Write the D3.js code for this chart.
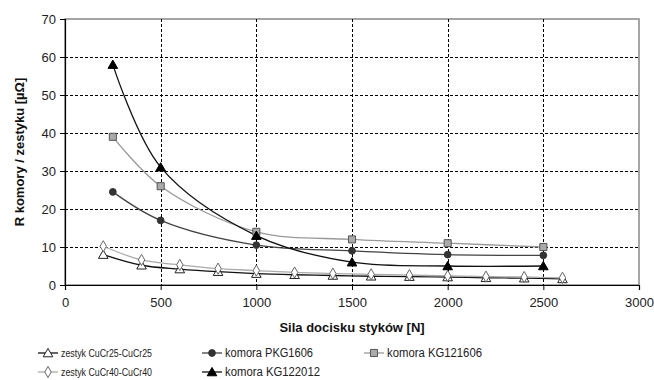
<!DOCTYPE html>
<html><head><meta charset="utf-8">
<script src="https://cdn.jsdelivr.net/npm/d3@7"></script>
<style>body{margin:0;background:#fff}svg{display:block;font-family:"Liberation Sans",Arial,sans-serif}</style>
</head><body><svg id="c" width="654" height="380"></svg>
<script>
const xZestyk = [200,400,600,800,1000,1200,1400,1600,1800,2000,2200,2400,2600];
const cucr25 = [8,5.2,4.2,3.5,3,2.7,2.5,2.3,2.2,2.1,1.9,1.8,1.6];
const cucr40 = [10.2,6.6,5.3,4.3,3.8,3.3,3.0,2.8,2.6,2.4,2.2,2.1,1.9];
const xKomora = [250,500,1000,1500,2000,2500];
const pkg1606 = [24.5,17,10.5,9,8,7.8];
const kg121606 = [39,26,14,12,11,10];
const kg122012 = [58,31,13,6,5,5];
const xTicks = [0,500,1000,1500,2000,2500,3000];
const yTicks = [0,10,20,30,40,50,60,70];
const xTitle = "Sila docisku styków [N]";
const yTitle = "R komory / zestyku  [µΩ]";

const svg = d3.select("#c");
const L=65, R=639, T=19, B=285;
const x = d3.scaleLinear().domain([0,3000]).range([L,R]);
const y = d3.scaleLinear().domain([0,70]).range([B,T]);

svg.append("rect").attr("x",L).attr("y",T).attr("width",R-L).attr("height",B-T)
  .attr("fill","none").attr("stroke","#888").attr("stroke-width",1.5);
svg.append("g").selectAll("line").data(yTicks.filter(d=>d>0&&d<70)).join("line")
  .attr("x1",L).attr("x2",R).attr("y1",d=>Math.round(y(d))+0.5).attr("y2",d=>Math.round(y(d))+0.5)
  .attr("stroke","#000").attr("stroke-dasharray","3,2");
svg.append("g").selectAll("line").data(xTicks.filter(d=>d>0&&d<3000)).join("line")
  .attr("y1",T).attr("y2",B).attr("x1",d=>Math.round(x(d))+0.5).attr("x2",d=>Math.round(x(d))+0.5)
  .attr("stroke","#000").attr("stroke-dasharray","3,2");

const xa = svg.append("g").attr("transform",`translate(0,${B})`)
  .call(d3.axisBottom(x).tickValues(xTicks).tickSize(5).tickPadding(8).tickFormat(d3.format("d")));
const ya = svg.append("g").attr("transform",`translate(${L},0)`)
  .call(d3.axisLeft(y).tickValues(yTicks).tickSize(5).tickPadding(4));
[xa,ya].forEach(a=>{a.select(".domain").attr("stroke","#000").attr("stroke-width",1.2);
  a.selectAll(".tick line").attr("stroke","#000");
  a.selectAll("text").attr("font-size",13).attr("fill","#222").attr("font-family","'Liberation Sans',Arial,sans-serif");});

svg.append("text").attr("x",(L+R)/2).attr("y",332).attr("text-anchor","middle")
  .attr("font-size",13).attr("font-weight","bold").attr("fill","#111").text(xTitle);
svg.append("text").attr("transform",`translate(24,${(T+B)/2}) rotate(-90)`).attr("text-anchor","middle")
  .attr("font-size",13).attr("font-weight","bold").attr("fill","#111").text(yTitle);

const series = [
  {name:"zestyk CuCr25-CuCr25", xs:xZestyk, ys:cucr25, color:"#111", marker:"tri", fill:"#fff", mstroke:"#222", fs:11, tl:91},
  {name:"zestyk CuCr40-CuCr40", xs:xZestyk, ys:cucr40, color:"#aaa", marker:"diamond", fill:"#fff", mstroke:"#666", fs:11, tl:91},
  {name:"komora PKG1606", xs:xKomora, ys:pkg1606, color:"#444", marker:"circle", fill:"#333", mstroke:"#333", fs:12.5, tl:88},
  {name:"komora KG121606", xs:xKomora, ys:kg121606, color:"#999", marker:"square", fill:"#aaa", mstroke:"#555", fs:12.5, tl:95},
  {name:"komora KG122012", xs:xKomora, ys:kg122012, color:"#111", marker:"trifill", fill:"#000", mstroke:"#000", fs:12.5, tl:95}
];
const line = d3.line().curve(d3.curveCatmullRom.alpha(0.5)).x(d=>x(d[0])).y(d=>y(d[1]));
function marker(g, s, cx, cy){
  let sym, size;
  if(s.marker==="tri"||s.marker==="trifill"){sym=d3.symbolTriangle; size=40;}
  else if(s.marker==="diamond"){sym=d3.symbolDiamond; size=36;}
  else if(s.marker==="circle"){sym=d3.symbolCircle; size=36;}
  else {sym=d3.symbolSquare; size=50;}
  g.append("path").attr("d",d3.symbol(sym,size)()).attr("transform",`translate(${cx},${cy+(sym===d3.symbolTriangle?1:0)})`)
    .attr("fill",s.fill).attr("stroke",s.mstroke).attr("stroke-width",1);
}
const plot = svg.append("g");
series.forEach(s=>{
  const pts = s.xs.map((v,i)=>[v,s.ys[i]]);
  plot.append("path").attr("d",line(pts)).attr("fill","none").attr("stroke",s.color).attr("stroke-width",1.3);
});
series.forEach(s=>{
  const g = plot.append("g");
  s.xs.forEach((v,i)=>marker(g,s,x(v),y(s.ys[i])));
});

const legPos = [[38,353],[38,372],[202,353],[364,353],[202,372]];
series.forEach((s,i)=>{
  const [lx,ly]=legPos[i];
  const g=svg.append("g");
  g.append("line").attr("x1",lx).attr("x2",lx+20).attr("y1",ly).attr("y2",ly).attr("stroke",s.color).attr("stroke-width",1.3);
  marker(g,s,lx+10,ly);
  g.append("text").attr("x",lx+23).attr("y",ly+4).attr("font-size",s.fs).attr("fill","#222")
    .attr("textLength",s.tl).attr("lengthAdjust","spacingAndGlyphs").text(s.name);
});
</script></body></html>
